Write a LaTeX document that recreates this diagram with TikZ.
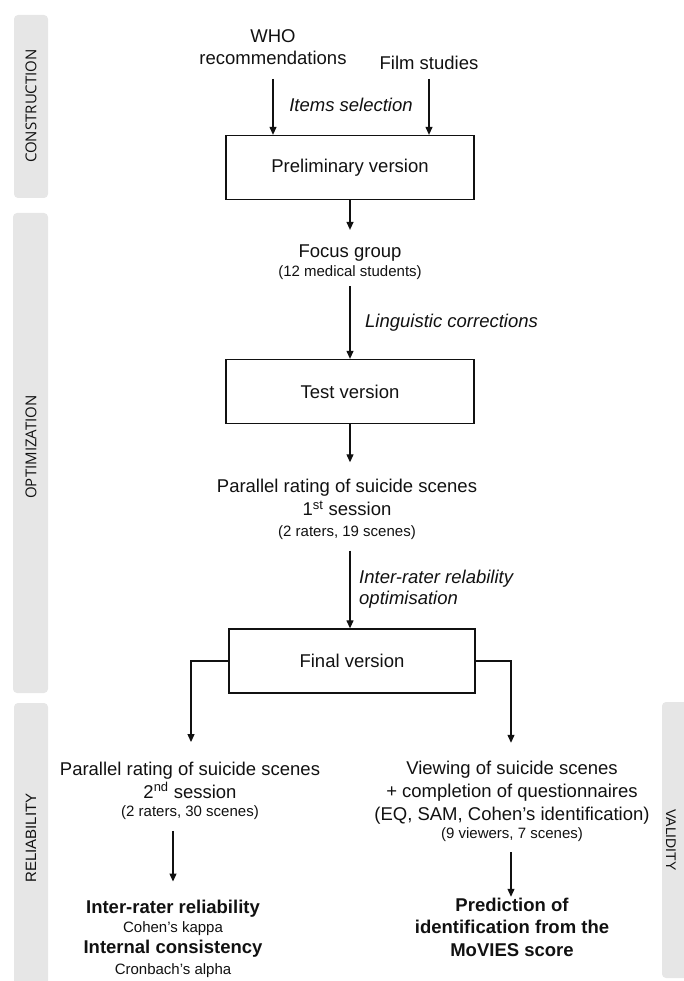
\documentclass[tikz,border=0pt]{standalone}
\usepackage{fontspec}
\setmainfont{Liberation Sans}
\newfontfamily\opensans{Open Sans}
\usetikzlibrary{arrows.meta}
\definecolor{barg}{HTML}{E6E6E6}
\definecolor{ink}{HTML}{111111}
\newcommand\mainf{\fontsize{18.5}{22.5}\selectfont}
\newcommand\smallf{\fontsize{15}{18}\selectfont}
\tikzset{
  bar/.style={fill=barg, rounded corners=4pt},
  boxn/.style={draw=ink, line width=1.3pt, minimum width=248pt, minimum height=64pt, font=\mainf, text=ink, inner sep=0pt},
  txt/.style={align=center, font=\mainf, text=ink, inner sep=0pt},
  lab/.style={align=left, font=\mainf\itshape, text=ink, inner sep=0pt},
  arr/.style={draw=ink, line width=1.2pt, -{Triangle[length=8pt,width=7pt]}},
  line/.style={draw=ink, line width=1.2pt},
  sidelab/.style={font=\opensans\fontsize{15}{18}\selectfont, text=ink, inner sep=0pt},
  sidelabb/.style={font=\fontsize{15}{18}\selectfont, text=ink, inner sep=0pt}
}
\begin{document}
\begin{tikzpicture}[x=1pt,y=-1pt]
\useasboundingbox (0,0) rectangle (684,981);
% side bars
\fill[bar] (14,15) rectangle (48,198);
\fill[bar] (13,213) rectangle (48,693);
\fill[bar] (14,703) rectangle (48,995);
\fill[bar] (662,702) rectangle (700,978);
\node[sidelab, rotate=90] (lcon) at (31,106) {CONSTRUCTION};
\node[sidelab, rotate=90] (lopt) at (31,447) {OPTIMIZATION};
\node[sidelabb, rotate=90] (lrel) at (31,838) {RELIABILITY};
\node[sidelabb, rotate=-90, font=\fontsize{14}{16}\selectfont] (lval) at (671,840) {VALIDITY};

% construction
\node[txt] (who) at (273,47) {WHO\\recommendations};
\node[txt] (film) at (429,63) {Film studies};
\node[lab] (items) at (351,105) {Items selection};
\node[boxn] (prelim) at (350,167.5) {Preliminary version};
\draw[arr] ([yshift=-9pt]film.south -| who.south) -- (who.south |- prelim.north);
\draw[arr] ([yshift=-9pt]film.south) -- (film.south |- prelim.north);

% optimization
\node[txt] (focus) at (350,262.5) {Focus group\\[-3.5pt]{\smallf (12 medical students)}};
\draw[arr, shorten >=15pt] (prelim.south) -- (focus.north);
\node[lab, anchor=west] (ling) at (365,323) {Linguistic corrections};
\node[boxn] (test) at (350,391.5) {Test version};
\draw[arr, shorten <=6pt] (focus.south) -- (test.north);
\node[txt] (par1) at (347,509.5) {Parallel rating of suicide scenes\\1\textsuperscript{st} session\\[-1.5pt]{\smallf (2 raters, 19 scenes)}};
\draw[arr, shorten >=17pt] (test.south) -- (test.south |- par1.north);
\node[lab, anchor=west] (irr) at (359,589.5) {Inter-rater relability\\[-1.5pt]optimisation};
\node[boxn, minimum width=246pt] (final) at (352,661) {Final version};
\draw[arr, shorten <=11pt] (test.south |- par1.south) -- (test.south |- final.north);

% reliability
\node[txt] (rel) at (190,791) {Parallel rating of suicide scenes\\2\textsuperscript{nd} session\\[-4pt]{\smallf (2 raters, 30 scenes)}};
\node[txt] (relres) at (173,938.5) {\textbf{Inter-rater reliability}\\[-3.5pt]{\smallf Cohen's kappa}\\[-1.5pt]\textbf{Internal consistency}\\[-1.5pt]{\smallf Cronbach's alpha}};
\draw[arr, shorten >=20pt] (final.west) -| ([xshift=1pt]rel.north);
\draw[arr, shorten <=11pt, shorten >=18pt] (rel.south -| relres.north) -- (relres.north);

% validity
\node[txt] (val) at (512,801.5) {Viewing of suicide scenes\\[0.5pt]+ completion of questionnaires\\[0.5pt](EQ, SAM, Cohen's identification)\\[-4pt]{\smallf (9 viewers, 7 scenes)}};
\node[txt, font=\mainf\bfseries] (valres) at (512,927.5) {Prediction of\\identification from the\\[0.5pt]MoVIES score};
\draw[arr, shorten >=18pt] (final.east) -| ([xshift=-1pt]val.north);
\draw[arr, shorten <=10pt, shorten >=1pt] ([xshift=-1pt]val.south) -- ([xshift=-1pt]valres.north);
\end{tikzpicture}
\end{document}
